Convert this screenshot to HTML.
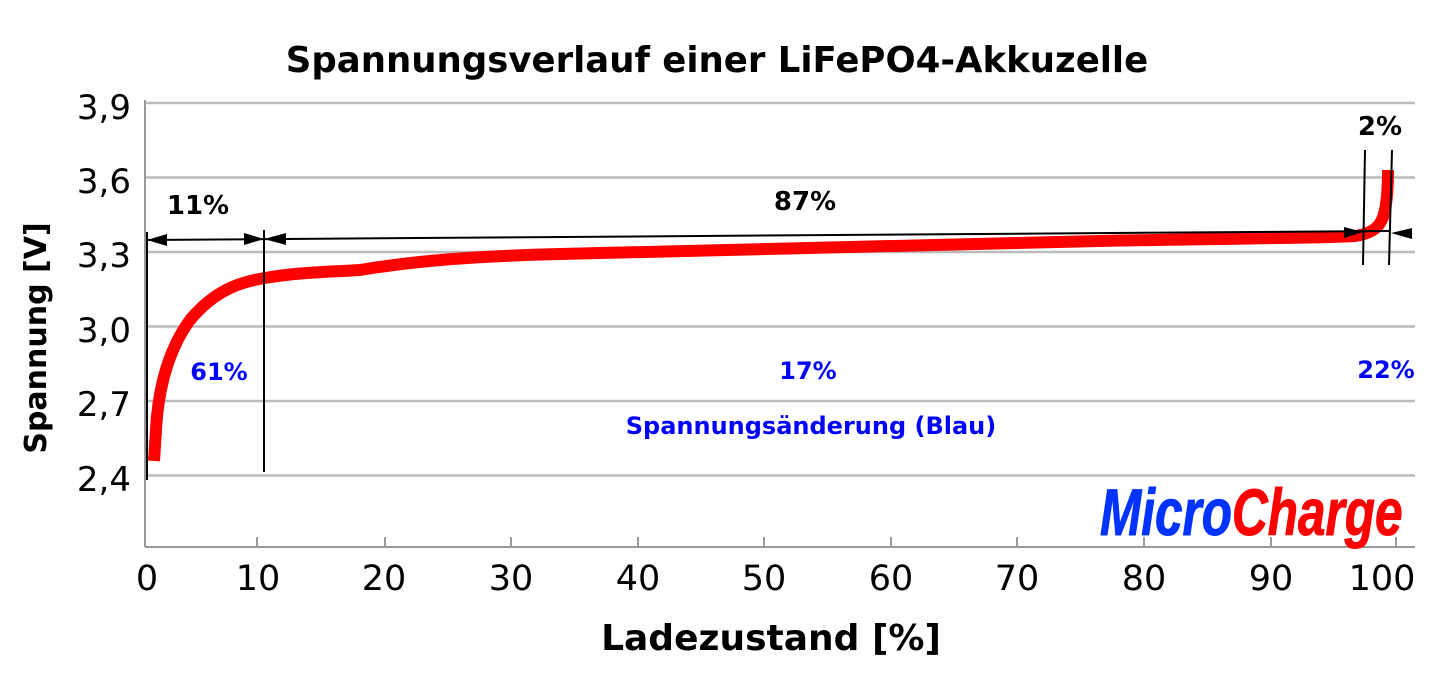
<!DOCTYPE html>
<html><head><meta charset="utf-8"><style>
body{margin:0;background:#fff;}
svg{display:block;}
</style></head><body>
<svg width="1444" height="692" xmlns="http://www.w3.org/2000/svg" font-family="DejaVu Sans, Liberation Sans, sans-serif">
<rect width="1444" height="692" fill="#fff"/>
<text x="717" y="72" text-anchor="middle" font-size="35.5" font-weight="bold">Spannungsverlauf einer LiFePO4-Akkuzelle</text>
<g stroke="#bbb" stroke-width="2.5">
<line x1="145" y1="103" x2="1415" y2="103"/>
<line x1="145" y1="177.5" x2="1415" y2="177.5"/>
<line x1="145" y1="252" x2="1415" y2="252"/>
<line x1="145" y1="326.5" x2="1415" y2="326.5"/>
<line x1="145" y1="401" x2="1415" y2="401"/>
<line x1="145" y1="475.5" x2="1415" y2="475.5"/>
</g>
<line x1="145" y1="100" x2="145" y2="547" stroke="#999" stroke-width="2"/>
<line x1="145" y1="547" x2="1415" y2="547" stroke="#999" stroke-width="2"/>
<g stroke="#999" stroke-width="2">
<line x1="257" y1="537" x2="257" y2="547"/><line x1="385" y1="537" x2="385" y2="547"/><line x1="511" y1="537" x2="511" y2="547"/><line x1="638" y1="537" x2="638" y2="547"/><line x1="764" y1="537" x2="764" y2="547"/><line x1="891" y1="537" x2="891" y2="547"/><line x1="1017" y1="537" x2="1017" y2="547"/><line x1="1144" y1="537" x2="1144" y2="547"/><line x1="1271" y1="537" x2="1271" y2="547"/><line x1="1396" y1="537" x2="1396" y2="547"/>
</g>
<g font-size="35" text-anchor="middle">
<text x="147" y="590">0</text><text x="258" y="590">10</text><text x="384" y="590">20</text><text x="511" y="590">30</text><text x="638" y="590">40</text><text x="764" y="590">50</text><text x="891" y="590">60</text><text x="1017" y="590">70</text><text x="1144" y="590">80</text><text x="1271" y="590">90</text><text x="1382" y="590">100</text>
</g>
<g font-size="34" text-anchor="end">
<text x="131" y="119">3,9</text><text x="131" y="193">3,6</text><text x="131" y="267">3,3</text><text x="131" y="342">3,0</text><text x="131" y="416">2,7</text><text x="131" y="491">2,4</text>
</g>
<text x="771" y="650" text-anchor="middle" font-size="36" font-weight="bold">Ladezustand [%]</text>
<text transform="translate(46,338) rotate(-90)" text-anchor="middle" font-size="30" font-weight="bold">Spannung [V]</text>
<path d="M154,461 L156,430 C158,390 168,350 190,320 C215,290 240,282 265,278 C300,272 330,272 360,270 C420,260 480,256 560,254 C700,250 900,245 1100,241 C1250,238 1330,238 1355,236 C1375,233 1382,225 1385,210 C1388,195 1388,180 1388,170" fill="none" stroke="#f00" stroke-width="12"/>
<g stroke="#000" stroke-width="2">
<line x1="147" y1="232" x2="147" y2="480"/>
<line x1="264" y1="230" x2="264" y2="472"/>
<line x1="1365" y1="150" x2="1363" y2="265"/>
<line x1="1392" y1="150" x2="1389" y2="265"/>
<line x1="147" y1="240" x2="1389" y2="231"/>
</g>
<g fill="#000">
<polygon points="147,240 167,234 167,246"/>
<polygon points="264,239 244,233 244,245"/>
<polygon points="264,239 286,233 286,245"/>
<polygon points="1363,232 1344,227 1344,238"/>
<polygon points="1391,233 1412,228 1412,239"/>
</g>
<g font-size="26" font-weight="bold" text-anchor="middle">
<text x="198" y="214">11%</text><text x="805" y="210">87%</text><text x="1380" y="135">2%</text>
</g>
<g font-size="24" font-weight="bold" fill="#00f" text-anchor="middle">
<text x="219" y="380">61%</text><text x="808" y="379">17%</text><text x="1386" y="378">22%</text>
<text x="811" y="434">Spannungsänderung (Blau)</text>
</g>
<g font-size="66" font-weight="bold" font-style="italic" transform="translate(1100,535) scale(0.75,1)" font-family="Liberation Sans, sans-serif">
<text x="0" y="0" fill="#0033ff" stroke="#0033ff" stroke-width="1">Micro<tspan fill="#f00" stroke="#f00">Charge</tspan></text>
</g>
</svg>
</body></html>
